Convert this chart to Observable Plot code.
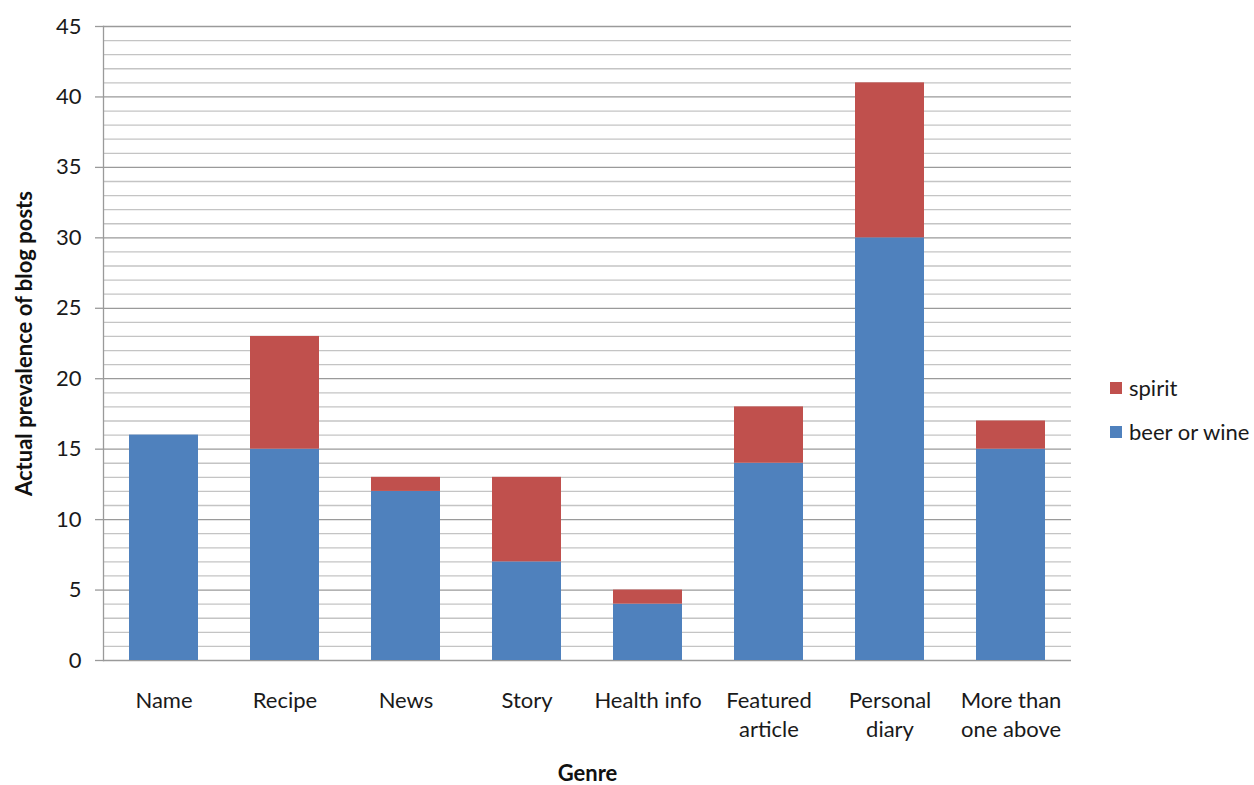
<!DOCTYPE html>
<html>
<head>
<meta charset="utf-8">
<script src="https://cdn.jsdelivr.net/npm/d3@7"></script>
<script src="https://cdn.jsdelivr.net/npm/@observablehq/plot@0.6"></script>
<style>
  html, body { margin: 0; padding: 0; background: #fff; }
  #wrap { position: relative; width: 1254px; height: 785px; font-family: Lato, "Open Sans", sans-serif; }
  #legend { position: absolute; left: 1110px; top: 373px; font-size: 22px; color: #1a1a1a; }
  #legend div { display: flex; align-items: center; height: 29px; margin-bottom: 15px; }
  #legend span.sw { width: 12px; height: 12px; margin-right: 7px; display: inline-block; }
</style>
</head>
<body>
<div id="wrap"></div>
<script>
// Blog post genres and the counts of posts in each drink category
const genres = ["Name", "Recipe", "News", "Story", "Health info", "Featured\narticle", "Personal\ndiary", "More than\none above"];
const beerOrWine = [16, 15, 12, 7, 4, 14, 30, 15];
const spirit = [0, 8, 1, 6, 1, 4, 11, 2];
const seriesNames = ["beer or wine", "spirit"];
const seriesColors = ["#4F81BD", "#C0504D"];
const yTicks = [0, 5, 10, 15, 20, 25, 30, 35, 40, 45];

// long table: beer or wine first so it stacks at the bottom
const rows = [];
genres.forEach((g, i) => {
  rows.push({genre: g, series: seriesNames[0], value: beerOrWine[i]});
  rows.push({genre: g, series: seriesNames[1], value: spirit[i]});
});

const minorTicks = d3.range(0, 46, 1).filter(v => v % 5 !== 0);

const chart = Plot.plot({
  width: 1254,
  height: 785,
  marginLeft: 103,
  marginRight: 183,
  marginTop: 26,
  marginBottom: 125,
  style: {fontFamily: "Lato, 'Open Sans', sans-serif", background: "#fff", overflow: "visible"},
  x: {domain: genres, paddingInner: 0.43, paddingOuter: 0.215, axis: null},
  y: {domain: [0, 45], axis: null},
  color: {domain: seriesNames, range: seriesColors},
  marks: [
    Plot.gridY(minorTicks, {stroke: "#c4c4c4", strokeOpacity: 1, strokeWidth: 1.3}),
    Plot.gridY(yTicks, {stroke: "#9a9a9a", strokeOpacity: 1, strokeWidth: 1.3}),
    Plot.frame({anchor: "left", stroke: "#9a9a9a", strokeWidth: 1.3}),
    Plot.axisY(yTicks, {
      tickSize: 8, tickPadding: 14, fontSize: 22, stroke: "#9a9a9a", strokeWidth: 1.3,
      fill: "#1a1a1a", label: null, tickFormat: d => String(d)
    }),
    Plot.barY(rows, {x: "genre", y: "value", fill: "series"}),
    Plot.axisX({
      tickSize: 0, tickPadding: 27, fontSize: 22, fill: "#1a1a1a", lineHeight: 1.32,
      label: null
    }),
    Plot.text(["Genre"], {
      text: d => d, frameAnchor: "bottom", lineAnchor: "middle", dy: 113,
      fontSize: 22, fontWeight: "bold", fill: "#111"
    }),
    Plot.text(["Actual prevalence of blog posts"], {
      text: d => d, frameAnchor: "left", textAnchor: "middle", dx: -79, rotate: -90,
      fontSize: 22, fontWeight: "bold", fill: "#111"
    })
  ]
});

const wrap = document.getElementById("wrap");
wrap.appendChild(chart);

// legend to the right of the plot, spirit listed first
const legend = document.createElement("div");
legend.id = "legend";
[1, 0].forEach(i => {
  const item = document.createElement("div");
  const sw = document.createElement("span");
  sw.className = "sw";
  sw.style.background = seriesColors[i];
  item.appendChild(sw);
  item.appendChild(document.createTextNode(seriesNames[i]));
  legend.appendChild(item);
});
wrap.appendChild(legend);
</script>
</body>
</html>
